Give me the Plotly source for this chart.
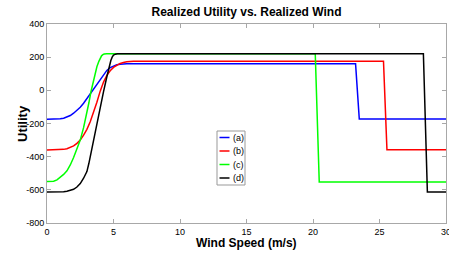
import plotly.graph_objects as go

# ---- data ----
labels = ["(a)", "(b)", "(c)", "(d)"]
colors = ["#0000ff", "#ff0000", "#00ff00", "#000000"]

wind_a = [0, 0.5, 0.75, 1, 1.25, 1.5, 1.75, 2, 2.25, 2.5, 2.75, 3, 3.25, 3.5, 3.75, 4,
          4.25, 4.5, 4.75, 5, 5.25, 5.5, 6, 23.2, 23.48, 30]
util_a = [-175, -175, -174, -172, -168, -162, -152, -138, -121, -102, -78, -50, -20, 8, 37, 65,
          95, 120, 137, 148, 154, 157, 160, 160, -173, -173]

wind_b = [0, 0.75, 1, 1.25, 1.5, 1.75, 2, 2.25, 2.5, 2.75, 3, 3.25, 3.5, 3.75, 4,
          4.25, 4.5, 4.75, 5, 5.25, 5.5, 5.75, 6, 6.5, 25.3, 25.56, 30]
util_b = [-360, -359, -358, -356, -352, -345, -335, -320, -300, -270, -235, -190, -135, -72, -5,
          50, 90, 118, 138, 152, 162, 168, 172, 175, 175, -358, -358]

wind_c = [0, 0.25, 0.5, 0.75, 1, 1.25, 1.5, 1.75, 2, 2.25, 2.5, 2.75, 3, 3.15, 3.3, 3.45,
          3.6, 3.75, 3.9, 4.0, 4.1, 4.2, 4.3, 4.5, 20.17, 20.47, 30]
util_c = [-550, -550, -548, -540, -525, -507, -485, -450, -405, -355, -300, -225, -140, -75, -10, 48,
          100, 142, 175, 195, 208, 215, 219, 220, 220, -553, -553]

wind_d = [0, 0.5, 1, 1.25, 1.5, 1.75, 2, 2.25, 2.5, 2.75, 3, 3.15, 3.3, 3.45, 3.6, 3.8, 4,
          4.25, 4.5, 4.65, 4.8, 4.9, 5, 5.15, 5.3, 28.3, 28.6, 30]
util_d = [-613, -613, -612, -611, -608, -603, -597, -583, -562, -530, -490, -440, -380, -318, -255, -178, -100,
          -8, 82, 135, 180, 200, 212, 218, 220, 220, -613, -613]

x_ticks = [0, 5, 10, 15, 20, 25, 30]
y_ticks = [-800, -600, -400, -200, 0, 200, 400]

series = [(wind_a, util_a), (wind_b, util_b), (wind_c, util_c), (wind_d, util_d)]

W, H = 449, 255
L, R, T, B = 47, 3, 24, 32
pw, ph = W - L - R, H - T - B

fig = go.Figure()
for (xs, ys), name, col in zip(series, labels, colors):
    fig.add_trace(go.Scatter(x=xs, y=ys, mode="lines", name=name,
                             line=dict(color=col, width=1.5), showlegend=False))

frame = "#a8a8a8"
axis_common = dict(showgrid=False, zeroline=False, showline=True, linecolor=frame,
                   linewidth=1, mirror="ticks", ticks="inside", ticklen=4,
                   tickcolor=frame, automargin=False, ticklabeloverflow="allow",
                   tickfont=dict(family="Arial", size=9, color="black"))

fig.update_layout(
    width=W, height=H,
    margin=dict(l=L, r=R, t=T, b=B, pad=0),
    paper_bgcolor="white", plot_bgcolor="white",
    title=dict(text="Realized Utility vs. Realized Wind", x=0.5, xanchor="center",
               xref="paper", y=1 - 12 / H, yanchor="middle",
               font=dict(family="Arial", size=12, color="black", weight="bold")),
    xaxis=dict(range=[0, 30], tickvals=x_ticks, ticktext=[str(v) for v in x_ticks],
               **axis_common),
    yaxis=dict(range=[-800, 400], tickvals=y_ticks, ticktext=[str(v) for v in y_ticks],
               **axis_common),
)

def px2x(px):
    return (px - L) / pw

def py2y(py):
    return (H - B - py) / ph

# axis titles
fig.add_annotation(xref="paper", yref="paper", x=px2x(246.5), y=py2y(243),
                   xanchor="center", yanchor="middle", showarrow=False,
                   text="Wind Speed (m/s)",
                   font=dict(family="Arial", size=12, color="black", weight="bold"))
fig.add_annotation(xref="paper", yref="paper", x=px2x(22.5), y=py2y(123.5),
                   xanchor="center", yanchor="middle", showarrow=False, textangle=-90,
                   text="Utility",
                   font=dict(family="Arial", size=13, color="black", weight="bold"))

# legend drawn as a small MATLAB-style box
fig.add_shape(type="rect", xref="paper", yref="paper",
              x0=px2x(217), x1=px2x(245), y0=py2y(185), y1=py2y(131),
              line=dict(color="#999999", width=1), fillcolor="white", layer="above")
centers = [137.5, 151, 164.5, 178]
for name, col, cy in zip(labels, colors, centers):
    fig.add_shape(type="line", xref="paper", yref="paper",
                  x0=px2x(219.5), x1=px2x(229.5), y0=py2y(cy), y1=py2y(cy),
                  line=dict(color=col, width=1.5), layer="above")
    fig.add_annotation(xref="paper", yref="paper", x=px2x(230.5), y=py2y(cy),
                       xanchor="left", yanchor="middle", showarrow=False, text=name,
                       font=dict(family="Arial", size=9, color="black"))

fig.write_html("out.html", config={"displayModeBar": False},
               post_script="document.body.style.margin='0';document.body.style.overflow='hidden';")
